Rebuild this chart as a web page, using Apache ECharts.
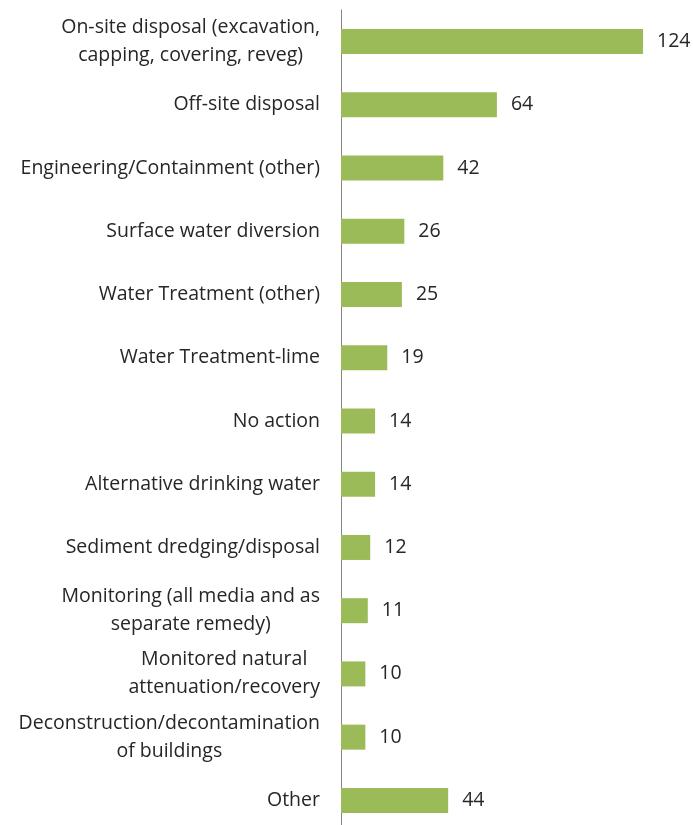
<!DOCTYPE html>
<html>
<head>
<meta charset="utf-8">
<script src="https://cdn.jsdelivr.net/npm/echarts@6/dist/echarts.min.js"></script>
<style>
  html, body { margin: 0; padding: 0; background: #fff; }
  #chart { width: 693px; height: 825px; }
</style>
</head>
<body>
<div id="chart"></div>
<script>
// Remedy types and number of sites using each
const categories = [
  'On-site disposal (excavation,\ncapping, covering, reveg)',
  'Off-site disposal',
  'Engineering/Containment (other)',
  'Surface water diversion',
  'Water Treatment (other)',
  'Water Treatment-lime',
  'No action',
  'Alternative drinking water',
  'Sediment dredging/disposal',
  'Monitoring (all media and as\nseparate remedy)',
  'Monitored natural\nattenuation/recovery',
  'Deconstruction/decontamination\nof buildings',
  'Other'
];
const counts = [124, 64, 42, 26, 25, 19, 14, 14, 12, 11, 10, 10, 44];

const textColor = '#262626';
const fontSize = 19.5;

const chart = echarts.init(document.getElementById('chart'));
chart.setOption({
  animation: false,
  textStyle: { fontFamily: 'Open Sans' },
  grid: {
    left: 341, top: 10, width: 341, height: 822,
    containLabel: false, outerBoundsMode: 'none'
  },
  xAxis: {
    type: 'value', min: 0, max: 140,
    show: false
  },
  yAxis: {
    type: 'category', data: categories, inverse: true,
    axisLine: { show: true, lineStyle: { color: '#868686', width: 1 } },
    axisTick: { show: false },
    axisLabel: {
      color: textColor, fontSize: fontSize, margin: 21,
      lineHeight: 28, align: 'right',
      // wrapped labels: lines centred inside a right-anchored block
      formatter: v => v.split('\n').map(s => '{c|' + s + '}').join('\n'),
      rich: {
        c: { align: 'center', color: textColor, fontSize: fontSize, lineHeight: 28, fontFamily: 'Open Sans' }
      }
    }
  },
  series: [{
    type: 'bar', data: counts, barWidth: 25,
    itemStyle: { color: '#9BBB59' },
    label: {
      show: true, position: 'right', distance: 14,
      color: textColor, fontSize: fontSize
    }
  }]
});
</script>
</body>
</html>
